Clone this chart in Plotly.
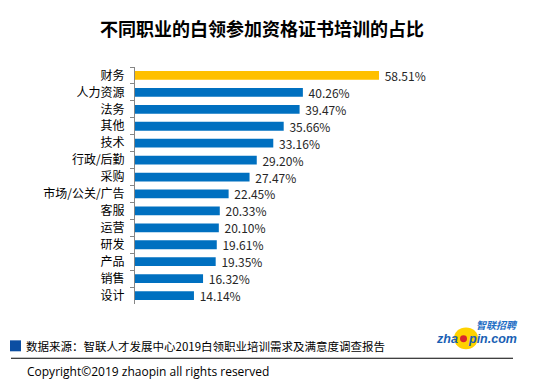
import plotly.graph_objects as go

categories = ["财务", "人力资源", "法务", "其他", "技术", "行政/后勤", "采购",
              "市场/公关/广告", "客服", "运营", "研发", "产品", "销售", "设计"]
values = [58.51, 40.26, 39.47, 35.66, 33.16, 29.20, 27.47,
          22.45, 20.33, 20.10, 19.61, 19.35, 16.32, 14.14]
highlight = "财务"

# page body has an 8px default margin; targets below are in screenshot pixels
OFF = 8
W, H = 543 - OFF, 388 - OFF
ML, MT = 135 - OFF, 66.5 - OFF
PW, PH = 292, 238
MR, MB = W - ML - PW, H - MT - PH

def px(x):
    return (x - OFF - ML) / PW

def py(y):
    return (H - MB - (y - OFF)) / PH

colors = ["#FFC000" if c == highlight else "#0070C0" for c in categories]
CJK = "Noto Sans CJK SC"

fig = go.Figure(go.Bar(
    x=values, y=categories, orientation="h",
    marker=dict(color=colors, line=dict(width=0)),
    text=[f"\u00a0{v:.2f}%" for v in values], textposition="outside",
    textfont=dict(family=CJK, size=12, color="#262626"),
    cliponaxis=False, constraintext="none", width=0.52,
))

shapes = [
    dict(type="rect", xref="paper", yref="paper", x0=px(10), x1=px(21), y0=py(352), y1=py(341),
         fillcolor="#0B4EA2", line=dict(width=0)),
    dict(type="line", xref="paper", yref="paper", x0=px(11), x1=px(513), y0=py(359), y1=py(359),
         line=dict(color="#000000", width=1.2)),
    dict(type="circle", xref="paper", yref="paper", x0=px(454), x1=px(478), y0=py(350), y1=py(328),
         fillcolor="#FFD200", line=dict(width=0), layer="below"),
    dict(type="circle", xref="paper", yref="paper", x0=px(460), x1=px(467), y0=py(343), y1=py(336),
         fillcolor="#D9262B", line=dict(width=0), layer="above"),
]

annotations = [
    dict(text="<b>不同职业的白领参加资格证书培训的占比</b>", xref="paper", yref="paper",
         x=px(262), y=py(27), xanchor="center", yanchor="middle", showarrow=False,
         font=dict(family=CJK, size=18, color="#000000")),
    dict(text="数据来源：智联人才发展中心2019白领职业培训需求及满意度调查报告", xref="paper", yref="paper",
         x=px(24), y=py(347), xanchor="left", yanchor="middle", showarrow=False,
         font=dict(family=CJK, size=11.5, color="#000000")),
    dict(text="Copyright©2019 zhaopin all rights reserved", xref="paper", yref="paper",
         x=px(25), y=py(372), xanchor="left", yanchor="middle", showarrow=False,
         font=dict(family="Open Sans", size=12, color="#000000")),
    dict(text="<b><i>智联招聘</i></b>", xref="paper", yref="paper",
         x=px(520), y=py(325), xanchor="right", yanchor="middle", showarrow=False,
         font=dict(family=CJK, size=10, color="#1F6FC5")),
    dict(text="<b><i>zha</i></b>", xref="paper", yref="paper",
         x=px(460), y=py(340), xanchor="right", yanchor="middle", showarrow=False,
         font=dict(family="Liberation Sans", size=12.5, color="#1A5FB4")),
    dict(text="<b><i>pin.com</i></b>", xref="paper", yref="paper",
         x=px(466), y=py(340), xanchor="left", yanchor="middle", showarrow=False,
         font=dict(family="Liberation Sans", size=12.5, color="#1A5FB4")),
]

fig.update_layout(
    width=W, height=H, margin=dict(l=ML, r=MR, t=MT, b=MB, pad=0, autoexpand=False),
    paper_bgcolor="white", plot_bgcolor="white", showlegend=False,
    shapes=shapes, annotations=annotations,
    xaxis=dict(range=[0, PW / 4.17], visible=False, automargin=False),
    yaxis=dict(autorange="reversed", showline=True, linecolor="#868686", linewidth=1,
               ticks="outside", tickson="boundaries", ticklen=4, tickcolor="#868686",
               showgrid=False, zeroline=False, ticklabelstandoff=7, automargin=False,
               tickfont=dict(family=CJK, size=12, color="#000000")),
)

fig.write_html("out.html")
